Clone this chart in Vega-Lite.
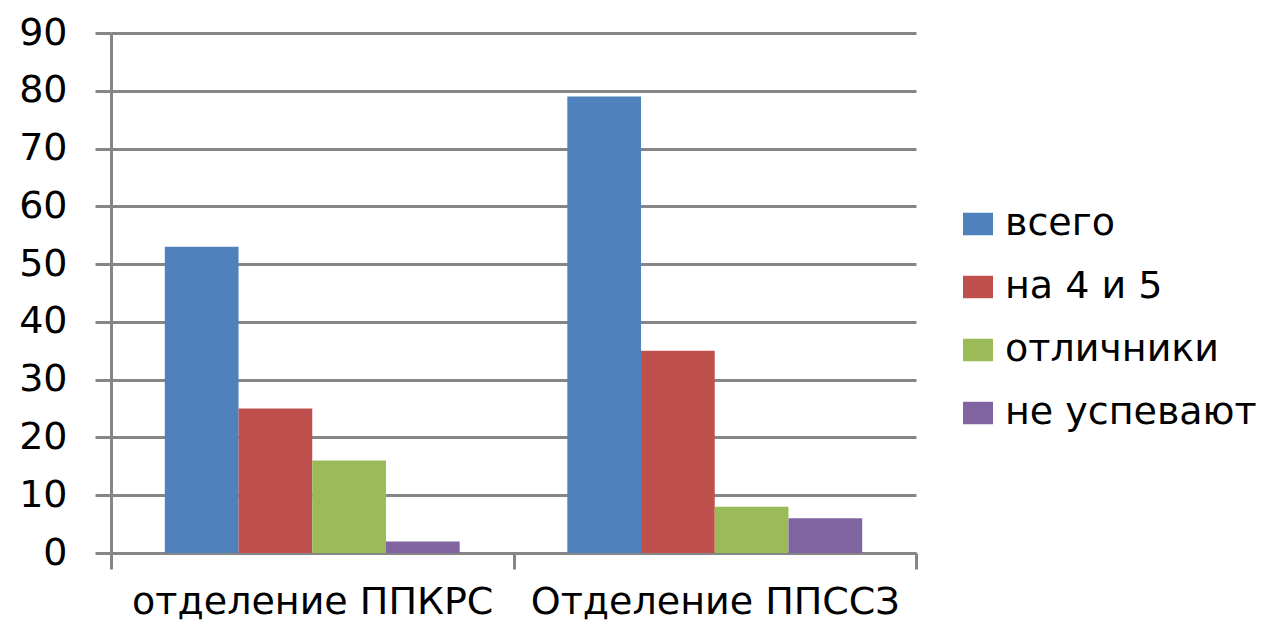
{
  "$schema": "https://vega.github.io/schema/vega-lite/v6.json",
  "autosize": "none",
  "width": 805,
  "height": 520,
  "padding": {"left": 111, "top": 33, "right": 345, "bottom": 71},
  "background": "white",
  "config": {
    "view": {"stroke": null},
    "font": "DejaVu Sans"
  },
  "data": {
    "values": [
      {"dept": "отделение ППКРС", "series": "всего", "value": 53},
      {"dept": "отделение ППКРС", "series": "на 4 и 5", "value": 25},
      {"dept": "отделение ППКРС", "series": "отличники", "value": 16},
      {"dept": "отделение ППКРС", "series": "не успевают", "value": 2},
      {"dept": "Отделение ППССЗ", "series": "всего", "value": 79},
      {"dept": "Отделение ППССЗ", "series": "на 4 и 5", "value": 35},
      {"dept": "Отделение ППССЗ", "series": "отличники", "value": 8},
      {"dept": "Отделение ППССЗ", "series": "не успевают", "value": 6}
    ]
  },
  "mark": {"type": "bar"},
  "encoding": {
    "x": {
      "field": "dept",
      "type": "nominal",
      "sort": ["отделение ППКРС", "Отделение ППССЗ"],
      "scale": {"paddingInner": 0, "paddingOuter": 0},
      "axis": {
        "title": null,
        "labelAngle": 0,
        "labelFontSize": 38,
        "labelColor": "black",
        "labelPadding": 14,
        "labelLimit": 500,
        "tickBand": "extent",
        "tickSize": 16,
        "tickWidth": 3,
        "tickColor": "#868686",
        "domainColor": "#868686",
        "domainWidth": 3,
        "grid": false
      }
    },
    "xOffset": {
      "field": "series",
      "type": "nominal",
      "sort": ["всего", "на 4 и 5", "отличники", "не успевают"],
      "scale": {"paddingInner": 0, "paddingOuter": 0.73}
    },
    "y": {
      "field": "value",
      "type": "quantitative",
      "scale": {"domain": [0, 90], "nice": false},
      "axis": {
        "title": null,
        "values": [0, 10, 20, 30, 40, 50, 60, 70, 80, 90],
        "labelFontSize": 38,
        "labelColor": "black",
        "labelPadding": 28,
        "tickSize": 16,
        "tickWidth": 3,
        "tickColor": "#868686",
        "domainColor": "#868686",
        "domainWidth": 3,
        "gridColor": "#868686",
        "gridWidth": 3,
        "gridOpacity": 1
      }
    },
    "color": {
      "field": "series",
      "type": "nominal",
      "sort": ["всего", "на 4 и 5", "отличники", "не успевают"],
      "scale": {
        "domain": ["всего", "на 4 и 5", "отличники", "не успевают"],
        "range": ["#4F81BD", "#C0504D", "#9BBB59", "#8064A2"]
      },
      "legend": {
        "title": null,
        "orient": "none",
        "legendX": 848,
        "legendY": 172,
        "symbolType": "M-1,-0.75H1V0.75H-1Z",
        "symbolSize": 900,
        "symbolStrokeWidth": 0,
        "labelFontSize": 38,
        "labelColor": "black",
        "labelOffset": 8,
        "rowPadding": 25,
        "labelLimit": 400
      }
    }
  }
}
